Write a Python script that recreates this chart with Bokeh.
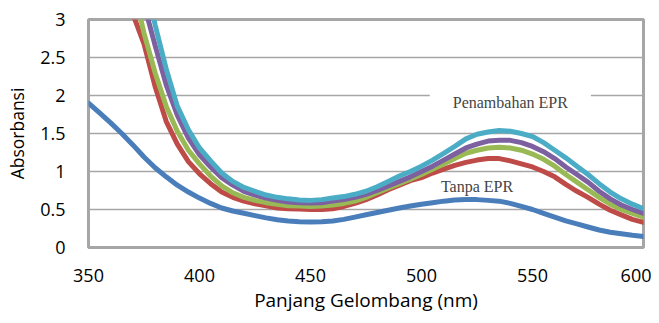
from bokeh.plotting import figure
from bokeh.models import FixedTicker, Label, Range1d
from bokeh.embed import file_html
from bokeh.resources import INLINE

# ---- data ----
wl_blue = [350, 355, 360, 365, 370, 375, 380, 385, 390, 395, 400, 405, 410, 415, 420, 425, 430, 435,
           440, 445, 450, 455, 460, 465, 470, 475, 480, 485, 490, 495, 500, 505, 510, 515, 520, 525,
           530, 535, 540, 545, 550, 555, 560, 565, 570, 575, 580, 585, 590, 595, 600]
abs_blue = [1.90, 1.77, 1.64, 1.50, 1.35, 1.19, 1.05, 0.93, 0.82, 0.73, 0.65, 0.58, 0.52, 0.48, 0.45,
            0.42, 0.39, 0.365, 0.35, 0.34, 0.335, 0.34, 0.35, 0.37, 0.40, 0.43, 0.46, 0.49, 0.52, 0.545,
            0.57, 0.59, 0.61, 0.625, 0.63, 0.63, 0.62, 0.61, 0.58, 0.54, 0.50, 0.45, 0.40, 0.35, 0.31,
            0.27, 0.23, 0.20, 0.18, 0.16, 0.145]

wl = [370, 375, 380, 385, 390, 395, 400, 405, 410, 415, 420, 425, 430, 435, 440, 445, 450, 455, 460,
      465, 470, 475, 480, 485, 490, 495, 500, 505, 510, 515, 520, 525, 530, 535, 540, 545, 550, 555,
      560, 565, 570, 575, 580, 585, 590, 595, 600]
abs_red = [3.07, 2.68, 2.12, 1.66, 1.36, 1.13, 0.97, 0.84, 0.73, 0.66, 0.61, 0.575, 0.55, 0.52, 0.51,
           0.505, 0.50, 0.50, 0.51, 0.54, 0.58, 0.63, 0.69, 0.76, 0.82, 0.88, 0.92, 0.98, 1.03, 1.08,
           1.12, 1.15, 1.17, 1.17, 1.14, 1.10, 1.06, 1.00, 0.93, 0.83, 0.74, 0.66, 0.57, 0.49, 0.43,
           0.37, 0.33]
abs_green = [3.45, 2.82, 2.30, 1.86, 1.53, 1.28, 1.10, 0.94, 0.81, 0.72, 0.66, 0.62, 0.59, 0.57, 0.55,
             0.545, 0.54, 0.545, 0.56, 0.58, 0.61, 0.66, 0.72, 0.78, 0.84, 0.90, 0.96, 1.03, 1.10, 1.17,
             1.24, 1.28, 1.31, 1.32, 1.31, 1.28, 1.23, 1.16, 1.07, 0.96, 0.86, 0.76, 0.66, 0.57, 0.50,
             0.45, 0.40]
abs_purple = [3.9, 3.2, 2.66, 2.14, 1.74, 1.44, 1.22, 1.06, 0.92, 0.82, 0.74, 0.69, 0.65, 0.62, 0.60,
              0.59, 0.585, 0.59, 0.61, 0.63, 0.66, 0.70, 0.75, 0.81, 0.87, 0.93, 1.00, 1.07, 1.15, 1.23,
              1.31, 1.36, 1.40, 1.41, 1.41, 1.38, 1.33, 1.26, 1.17, 1.06, 0.96, 0.86, 0.74, 0.64, 0.56,
              0.50, 0.45]
abs_cyan = [4.2, 3.6, 2.93, 2.35, 1.86, 1.55, 1.31, 1.14, 0.98, 0.87, 0.79, 0.74, 0.69, 0.66, 0.64,
            0.625, 0.62, 0.63, 0.65, 0.67, 0.70, 0.74, 0.80, 0.87, 0.94, 1.00, 1.07, 1.15, 1.24, 1.33,
            1.43, 1.49, 1.52, 1.54, 1.53, 1.50, 1.46, 1.38, 1.28, 1.18, 1.07, 0.96, 0.84, 0.73, 0.64,
            0.57, 0.51]

x_ticks = [350, 400, 450, 500, 550, 600]
y_ticks = [0, 0.5, 1, 1.5, 2, 2.5, 3]
y_tick_labels = ["0", "0.5", "1", "1.5", "2", "2.5", "3"]

colors = {"blue": "#4A7EBB", "red": "#BE4B48", "green": "#98B954", "purple": "#7D60A0", "cyan": "#4BACC6"}

p = figure(width=651, height=315, output_backend="svg", toolbar_location=None,
           x_range=Range1d(350, 600), y_range=Range1d(0, 3),
           min_border_left=88, min_border_right=8, min_border_top=19, min_border_bottom=68)

p.background_fill_color = "white"
p.border_fill_color = "white"
p.outline_line_color = "#A6A6A6"
p.outline_line_width = 3

for ax in (p.xaxis, p.yaxis):
    ax.axis_line_color = None
    ax.major_tick_line_color = None
    ax.minor_tick_line_color = None
    ax.major_label_text_font = "Open Sans"
    ax.major_label_text_font_size = "18px"
    ax.major_label_text_color = "#000000"
    ax.axis_label_text_font = "Open Sans"
    ax.axis_label_text_font_style = "normal"
    ax.axis_label_text_color = "#000000"

p.xaxis.axis_label_text_font_size = "19px"
p.yaxis.axis_label_text_font_size = "17.5px"

p.xaxis.ticker = FixedTicker(ticks=x_ticks)
p.yaxis.ticker = FixedTicker(ticks=y_ticks)
p.yaxis.major_label_overrides = {t: l for t, l in zip(y_ticks, y_tick_labels)}
p.xaxis.major_label_standoff = 15
p.yaxis.major_label_standoff = 17
p.xaxis.axis_label = "Panjang Gelombang (nm)"
p.yaxis.axis_label = "Absorbansi"
p.xaxis.axis_label_standoff = 2
p.yaxis.axis_label_standoff = 8

p.xgrid.grid_line_color = None
p.ygrid.grid_line_color = "#A6A6A6"
p.ygrid.grid_line_width = 1.5

lw = 5
p.line(wl_blue, abs_blue, line_color=colors["blue"], line_width=lw, line_cap="round", line_join="round")
p.line(wl, abs_red, line_color=colors["red"], line_width=lw, line_cap="round", line_join="round")
p.line(wl, abs_green, line_color=colors["green"], line_width=lw, line_cap="round", line_join="round")
p.line(wl, abs_purple, line_color=colors["purple"], line_width=lw, line_cap="round", line_join="round")
p.line(wl, abs_cyan, line_color=colors["cyan"], line_width=lw, line_cap="round", line_join="round")

p.add_layout(Label(x=540, y=1.91, text="Penambahan EPR", text_font="Liberation Serif",
                   text_font_size="16px", text_align="center", text_baseline="middle",
                   background_fill_color="white", padding=(23, 23, 3, 3)))
p.add_layout(Label(x=525, y=0.80, text="Tanpa EPR", text_font="Liberation Serif",
                   text_font_size="16px", text_align="center", text_baseline="middle"))

open("out.html", "w").write(file_html(p, INLINE))
